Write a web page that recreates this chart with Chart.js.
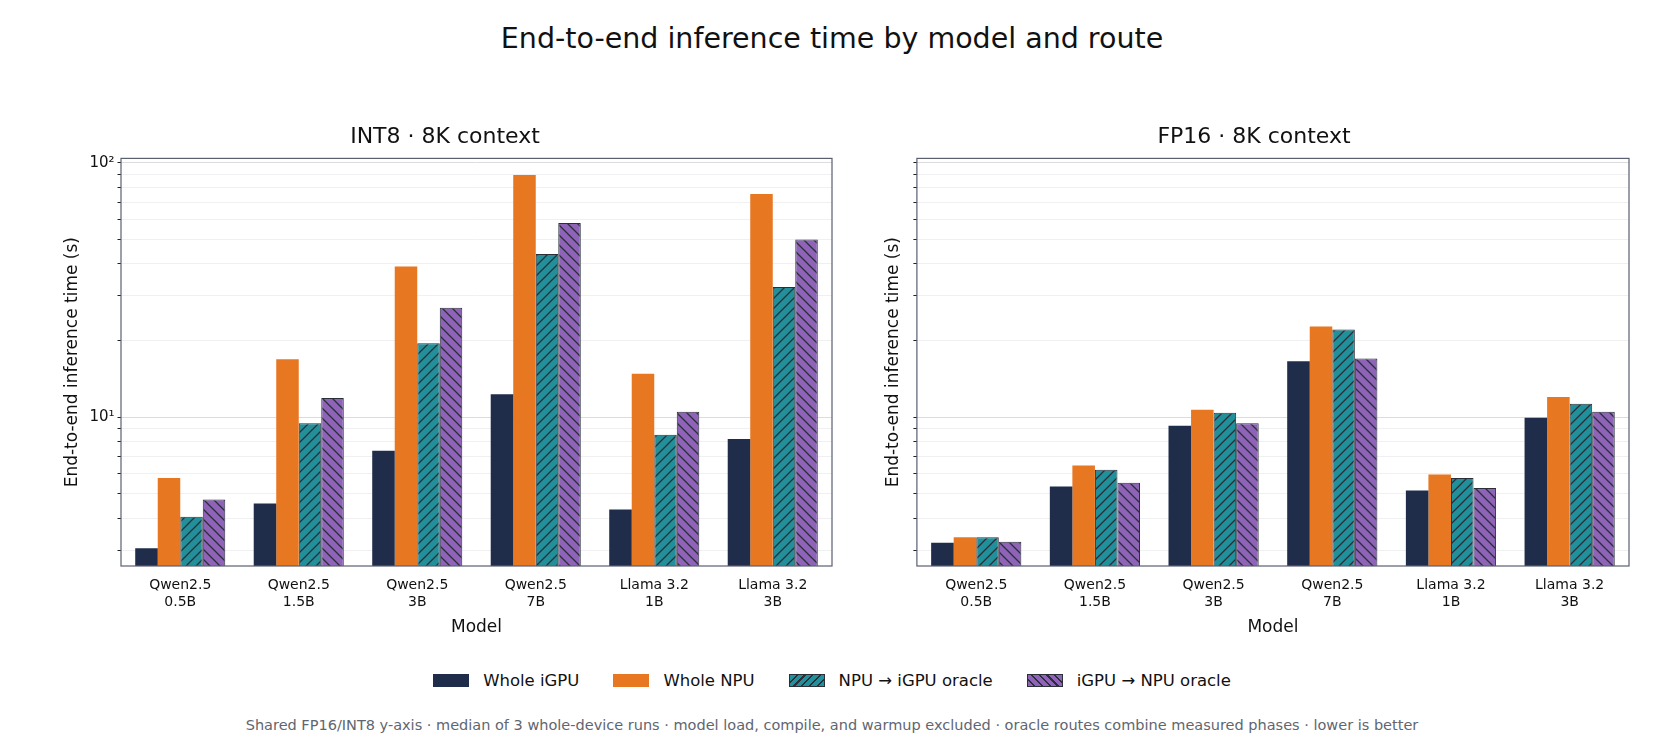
<!DOCTYPE html>
<html><head><meta charset="utf-8">
<script src="https://cdn.jsdelivr.net/npm/chart.js@4.4.1/dist/chart.umd.min.js"></script>
<style>
body{margin:0;width:1664px;height:741px;background:#fff;font-family:"DejaVu Sans",sans-serif;position:relative;overflow:hidden}
#title{position:absolute;top:22px;left:0;width:1664px;text-align:center;font-size:28.5px;color:#111}
.box{position:absolute;top:124px;height:518px}
#legend{position:absolute;top:671px;left:0;width:1664px;display:flex;justify-content:center;gap:34px;font-size:16.5px;color:#111}
.li{display:flex;align-items:center;gap:14px}
.sw{width:36px;height:13px;box-sizing:border-box}
#foot{position:absolute;top:717px;left:0;width:1664px;text-align:center;font-size:14.5px;color:#5f6670}
</style></head><body>
<div id="title">End-to-end inference time by model and route</div>
<div class="box" style="left:58px;width:786px"><canvas id="c1"></canvas></div>
<div class="box" style="left:841px;width:800px"><canvas id="c2"></canvas></div>
<div id="legend">
<div class="li"><div class="sw" style="background:#1f2d4a"></div>Whole iGPU</div>
<div class="li"><div class="sw" style="background:#e87722"></div>Whole NPU</div>
<div class="li"><div class="sw" style="border:1px solid #2a2f3a;background:repeating-linear-gradient(-45deg,#21909a 0 4px,#2a2f3a 4px 5.5px)"></div>NPU → iGPU oracle</div>
<div class="li"><div class="sw" style="border:1px solid #2a2f3a;background:repeating-linear-gradient(45deg,#8e63b8 0 4px,#2a2f3a 4px 5.5px)"></div>iGPU → NPU oracle</div>
</div>
<div id="foot">Shared FP16/INT8 y-axis · median of 3 whole-device runs · model load, compile, and warmup excluded · oracle routes combine measured phases · lower is better</div>
<script>
const models = [["Qwen2.5","0.5B"],["Qwen2.5","1.5B"],["Qwen2.5","3B"],["Qwen2.5","7B"],["Llama 3.2","1B"],["Llama 3.2","3B"]];
const seriesNames = ["Whole iGPU","Whole NPU","NPU → iGPU oracle","iGPU → NPU oracle"];
const int8_iGPU = [3.05,4.58,7.38,12.3,4.34,8.2];
const int8_NPU = [5.77,16.9,39.1,89.5,14.8,75.4];
const int8_NPU_iGPU = [4.06,9.47,19.5,43.8,8.53,32.5];
const int8_iGPU_NPU = [4.75,11.9,26.9,57.9,10.5,49.9];
const fp16_iGPU = [3.21,5.34,9.25,16.6,5.15,9.94];
const fp16_NPU = [3.37,6.45,10.7,22.7,5.95,12.0];
const fp16_NPU_iGPU = [3.37,6.21,10.4,22.1,5.77,11.3];
const fp16_iGPU_NPU = [3.24,5.52,9.47,17.0,5.27,10.5];
const yTicks = [3,4,5,6,7,8,9,10,20,30,40,50,60,70,80,90,100];

function hatch(bg, dir){
  const c=document.createElement('canvas');c.width=10;c.height=10;
  const x=c.getContext('2d');x.fillStyle=bg;x.fillRect(0,0,10,10);
  x.strokeStyle='#2a2f3a';x.lineWidth=1.3;x.beginPath();
  if(dir>0){x.moveTo(-1,11);x.lineTo(11,-1);x.moveTo(-6,6);x.lineTo(6,-6);x.moveTo(4,16);x.lineTo(16,4);}
  else{x.moveTo(-1,-1);x.lineTo(11,11);x.moveTo(-6,4);x.lineTo(6,16);x.moveTo(4,-6);x.lineTo(16,6);}
  x.stroke();
  return x.createPattern(c,'repeat');
}
const frame={id:'frame',afterDraw(ch){const a=ch.chartArea,x=ch.ctx;x.save();x.strokeStyle='#5a6070';x.lineWidth=1.2;x.strokeRect(a.left,a.top,a.right-a.left,a.bottom-a.top);x.restore();}};
function make(id,title,d,showLabels){
  const colors=['#1f2d4a','#e87722',hatch('#21909a',1),hatch('#8e63b8',-1)];
  new Chart(document.getElementById(id),{type:'bar',
    data:{labels:models,datasets:d.map((v,i)=>({label:seriesNames[i],data:v,backgroundColor:colors[i],
      borderColor:i<2?'transparent':'#2a2f3a',borderWidth:i<2?0:1,barPercentage:1,categoryPercentage:0.76}))},
    options:{responsive:true,maintainAspectRatio:false,animation:false,
      layout:{padding:{left:showLabels?0:38,right:12}},
      plugins:{legend:{display:false},tooltip:{enabled:false},
        title:{display:true,text:title,font:{size:22,family:'DejaVu Sans',weight:'normal'},color:'#111',padding:{top:0,bottom:8}}},
      scales:{
        x:{grid:{display:false},border:{display:false},ticks:{color:'#111',font:{size:14,family:'DejaVu Sans'},maxRotation:0},
          title:{display:true,text:'Model',font:{size:17,family:'DejaVu Sans'},color:'#111',padding:{top:4}}},
        y:{type:'logarithmic',min:2.6,max:104,border:{display:false},
          afterBuildTicks(ax){ax.ticks=yTicks.map(v=>({value:v}));},
          grid:{color:c=>(c.tick&&(c.tick.value===10||c.tick.value===100))?'#dcdce0':'#f0f0f2',
            tickColor:'#222',tickLength:c=>(c.tick&&(c.tick.value===10||c.tick.value===100))?6:3.5,drawTicks:true},
          ticks:{color:'#111',font:{size:15,family:'DejaVu Sans'},autoSkip:false,
            callback:v=>!showLabels?'':(v===10?'10¹':v===100?'10²':'')},
          title:{display:true,text:'End-to-end inference time (s)',font:{size:17,family:'DejaVu Sans'},color:'#111'}}}},
    plugins:[frame]});
}
make('c1','INT8 · 8K context',[int8_iGPU,int8_NPU,int8_NPU_iGPU,int8_iGPU_NPU],true);
make('c2','FP16 · 8K context',[fp16_iGPU,fp16_NPU,fp16_NPU_iGPU,fp16_iGPU_NPU],false);
</script></body></html>
